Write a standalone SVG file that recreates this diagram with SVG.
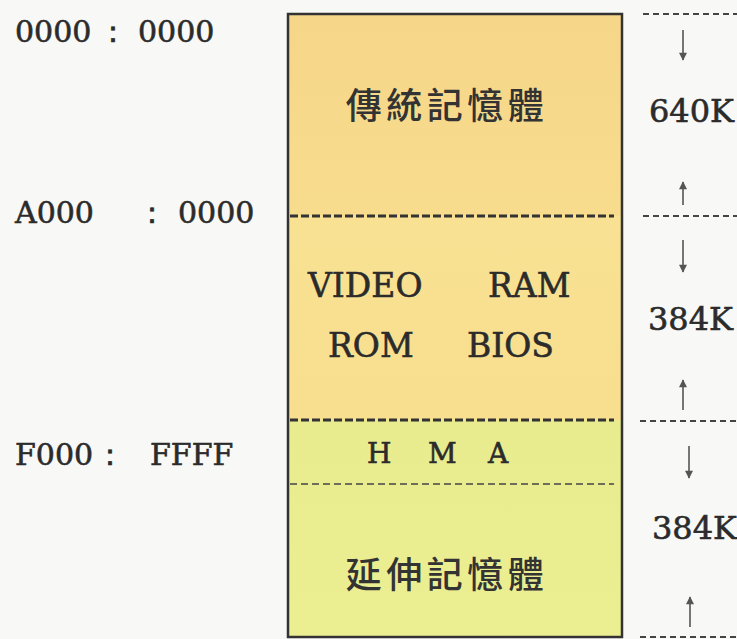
<svg xmlns="http://www.w3.org/2000/svg" width="737" height="639" viewBox="0 0 737 639">
<defs>
<style>
.t{font-family:"DejaVu Serif","Liberation Serif",serif;fill:#2b2b2b;stroke:#2b2b2b;stroke-width:0.6;}
.addr{font-size:30px;}
.size{font-size:32px;}
.big{font-size:33px;}
.hma{font-size:28px;}
.cjk{font-family:"Noto Sans CJK TC","Noto Sans CJK SC",sans-serif;font-size:36px;letter-spacing:4.5px;fill:#333;font-weight:500;}
.heavy{stroke:#333;stroke-width:3;stroke-dasharray:8 3;fill:none;}
.thin{stroke:#444;stroke-width:1.6;stroke-dasharray:7 4;fill:none;}
.rd{stroke:#444;stroke-width:2;stroke-dasharray:6 4;fill:none;}
.arr{stroke:#555;stroke-width:1.6;fill:none;}
</style>
<marker id="ah" viewBox="0 0 10 10" refX="9" refY="5" markerWidth="9" markerHeight="8" orient="auto" markerUnits="userSpaceOnUse">
<path d="M0,0 L10,5 L0,10 z" fill="#555"/>
</marker>
<linearGradient id="g1" x1="0" y1="0" x2="0" y2="1">
<stop offset="0" stop-color="#f6d689"/>
<stop offset="1" stop-color="#f8dc8d"/>
</linearGradient>
<linearGradient id="g2" x1="0" y1="0" x2="0" y2="1">
<stop offset="0" stop-color="#f9e193"/>
<stop offset="1" stop-color="#f8df8f"/>
</linearGradient>
<linearGradient id="g3" x1="0" y1="0" x2="0" y2="1">
<stop offset="0" stop-color="#e8eb8e"/>
<stop offset="1" stop-color="#ecee92"/>
</linearGradient>
</defs>
<rect x="0" y="0" width="737" height="639" fill="#f8f8f6"/>

<g id="memory-map">
<rect x="288" y="14" width="334" height="202" fill="url(#g1)"/>
<rect x="288" y="216" width="334" height="204" fill="url(#g2)"/>
<rect x="288" y="420" width="334" height="217" fill="url(#g3)"/>
<rect x="288" y="14" width="334" height="623" fill="none" stroke="#333" stroke-width="2.5"/>
</g>

<g id="conventional">
<text class="cjk" x="447" y="119" text-anchor="middle">傳統記憶體</text>
</g>
<g id="upper">
<text class="t big" x="308" y="297">VIDEO</text>
<text class="t big" x="488" y="297">RAM</text>
<text class="t big" x="328" y="357">ROM</text>
<text class="t big" x="467" y="357">BIOS</text>
</g>
<g id="hma">
<text class="t hma" y="463"><tspan x="367">H</tspan><tspan x="428">M</tspan><tspan x="488">A</tspan></text>
</g>
<g id="extended">
<text class="cjk" x="447" y="588" text-anchor="middle">延伸記憶體</text>
</g>

<g id="addresses">
<text class="t addr" y="42"><tspan x="15">0000</tspan><tspan x="98">：</tspan><tspan x="138">0000</tspan></text>
<text class="t addr" y="223"><tspan x="15">A000</tspan><tspan x="137">：</tspan><tspan x="178">0000</tspan></text>
<text class="t addr" y="465"><tspan x="15">F000</tspan><tspan x="95">：</tspan><tspan x="150">FFFF</tspan></text>
</g>

<g id="sizes">
<text class="t size" x="649" y="122">640K</text>
<text class="t size" x="648" y="330">384K</text>
<text class="t size" x="652" y="539">384K</text>
</g>

<g id="connectors">
<line class="heavy" x1="290" y1="216" x2="614" y2="216"/>
<line class="heavy" x1="290" y1="420" x2="614" y2="420"/>
<line class="thin" x1="290" y1="484" x2="614" y2="484"/>
<line class="rd" x1="643" y1="14" x2="737" y2="14"/>
<line class="rd" x1="643" y1="216" x2="737" y2="216"/>
<line class="rd" x1="640" y1="421" x2="737" y2="421"/>
<line class="rd" x1="640" y1="637" x2="737" y2="637"/>
<line class="arr" x1="683" y1="30" x2="683" y2="60" marker-end="url(#ah)"/>
<line class="arr" x1="683" y1="205" x2="683" y2="182" marker-end="url(#ah)"/>
<line class="arr" x1="683" y1="240" x2="683" y2="272" marker-end="url(#ah)"/>
<line class="arr" x1="683" y1="410" x2="683" y2="380" marker-end="url(#ah)"/>
<line class="arr" x1="689" y1="446" x2="689" y2="478" marker-end="url(#ah)"/>
<line class="arr" x1="690" y1="627" x2="690" y2="597" marker-end="url(#ah)"/>
</g>
</svg>
